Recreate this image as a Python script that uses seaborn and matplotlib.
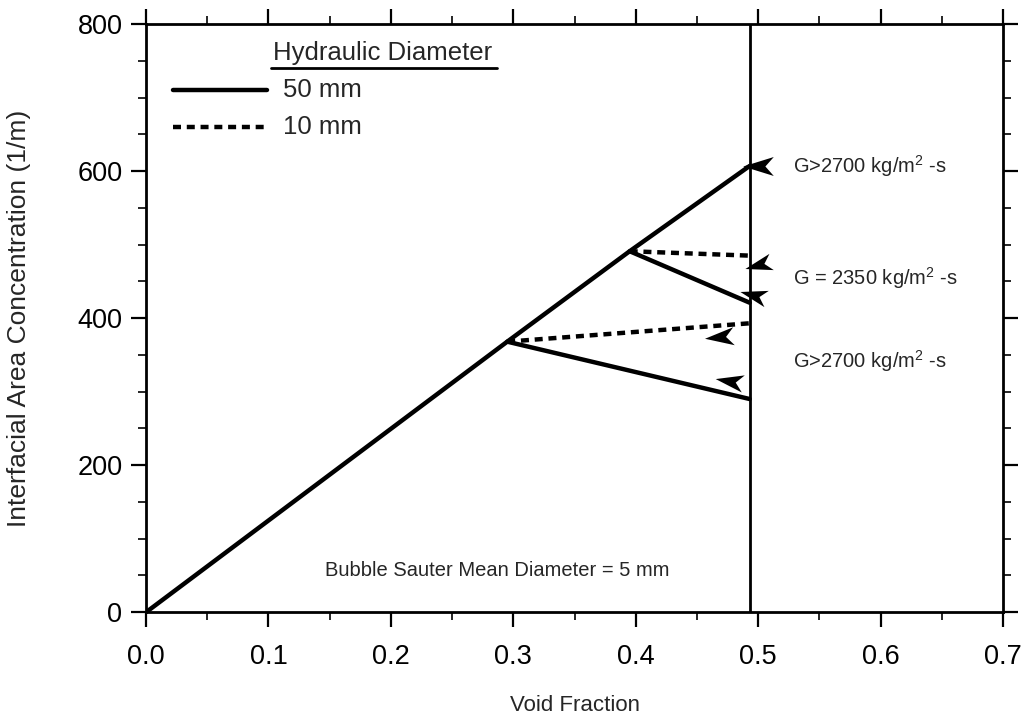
import numpy as np
import pandas as pd
import matplotlib
matplotlib.use("Agg")
import matplotlib.pyplot as plt
from matplotlib.path import Path
import seaborn as sns

# ---- data ----
void_main = [0.0, 0.295, 0.395, 0.493]
iac_main = [0, 368, 491, 607]

branch_x_start = [0.395, 0.295, 0.395, 0.295]
branch_y_start = [491, 368, 491, 368]
branch_x_end = [0.493, 0.493, 0.493, 0.493]
branch_y_end = [421, 290, 485, 393]
branch_diam = ["50 mm", "50 mm", "10 mm", "10 mm"]

limit_void = 0.493

arrow_x = [0.5, 0.5, 0.496, 0.468, 0.476]
arrow_y = [607, 472, 432, 374, 315]
arrow_angle = [180, 195, 165, 185, 170]

ann_texts = ["G>2700 kg/m$^2$ -s", "G = 2350 kg/m$^2$ -s", "G>2700 kg/m$^2$ -s"]
ann_x = [0.528, 0.528, 0.528]
ann_y = [607, 455, 341]

xticks = [0.0, 0.1, 0.2, 0.3, 0.4, 0.5, 0.6, 0.7]
yticks = [0, 200, 400, 600, 800]

# ---- build table ----
rows = []
for i, (x, y) in enumerate(zip(void_main, iac_main)):
    rows.append(dict(seg="main", diam="50 mm", x=x, y=y, order=i))
for k in range(len(branch_diam)):
    rows.append(dict(seg=f"b{k}", diam=branch_diam[k], x=branch_x_start[k], y=branch_y_start[k], order=0))
    rows.append(dict(seg=f"b{k}", diam=branch_diam[k], x=branch_x_end[k], y=branch_y_end[k], order=1))
df = pd.DataFrame(rows)

sns.set_style("ticks")
plt.rcParams["font.family"] = ["Liberation Sans", "DejaVu Sans"]
plt.rcParams["mathtext.fontset"] = "custom"
plt.rcParams["mathtext.rm"] = "Liberation Sans"

fig = plt.figure(figsize=(10.32, 7.28), dpi=100)
ax = fig.add_axes([0.1415, 0.159, 0.8305, 0.808])

sns.lineplot(data=df, x="x", y="y", units="seg", style="diam", estimator=None,
             sort=False, color="black", linewidth=3.2,
             dashes={"50 mm": "", "10 mm": (1.8, 1.3)}, legend=False, ax=ax)

ax.axvline(limit_void, color="black", linewidth=2.0, zorder=1)

# arrowheads
base = np.array([[-1, 0], [1, 0.62], [0.45, 0], [1, -0.62], [-1, 0]])
codes = [Path.MOVETO, Path.LINETO, Path.LINETO, Path.LINETO, Path.CLOSEPOLY]
for ax_, ay_, ang in zip(arrow_x, arrow_y, arrow_angle):
    t = np.deg2rad(ang - 180)
    R = np.array([[np.cos(t), -np.sin(t)], [np.sin(t), np.cos(t)]])
    verts = base @ R.T
    ax.plot([ax_], [ay_], marker=Path(verts, codes), markersize=22,
            color="black", markeredgewidth=0, linestyle="none")

for t, x, y in zip(ann_texts, ann_x, ann_y):
    ax.text(x, y, t, fontsize=14.5, va="center", ha="left")

ax.text(0.2865, 57, "Bubble Sauter Mean Diameter = 5 mm", fontsize=14.5,
        ha="center", va="center")

# legend (manual)
tr = ax.transAxes
ax.text(0.148, 0.951, "Hydraulic Diameter", transform=tr, fontsize=18.5,
        ha="left", va="center")
ax.plot([0.146, 0.41], [0.925, 0.925], transform=tr, color="black", lw=2)
ax.plot([0.0315, 0.141], [0.888, 0.888], transform=tr, color="black", lw=3.2)
ax.text(0.160, 0.888, "50 mm", transform=tr, fontsize=18.5, ha="left", va="center")
ax.plot([0.0315, 0.141], [0.825, 0.825], transform=tr, color="black", lw=3.2,
        dashes=(1.8, 1.3))
ax.text(0.160, 0.825, "10 mm", transform=tr, fontsize=18.5, ha="left", va="center")

ax.set_xlim(0, 0.7)
ax.set_ylim(0, 800)
ax.set_xticks(xticks)
ax.set_xticklabels([f"{v:.1f}" for v in xticks])
ax.set_yticks(yticks)
ax.set_xticks(np.arange(0.05, 0.7, 0.1), minor=True)
ax.set_yticks(np.arange(50, 800, 50), minor=True)

for s in ax.spines.values():
    s.set_visible(True)
    s.set_linewidth(2.0)
    s.set_color("black")

ax.tick_params(which="major", direction="out", length=11, width=1.6,
               top=True, right=True, labelsize=19.5, pad=12, colors="black")
ax.tick_params(which="minor", direction="out", length=6, width=1.4,
               top=True, right=True)
ax.tick_params(axis="y", which="major", pad=6)

ax.set_xlabel("Void Fraction", fontsize=16, labelpad=18)
ax.set_ylabel("Interfacial Area Concentration (1/m)", fontsize=19)
ax.yaxis.set_label_coords(-0.134, 0.5)

fig.savefig("out.png", dpi=100)
